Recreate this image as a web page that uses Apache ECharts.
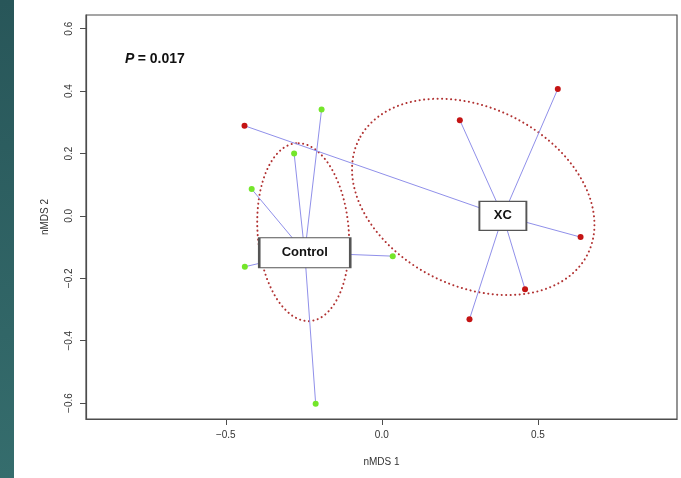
<!DOCTYPE html>
<html>
<head>
<meta charset="utf-8">
<script src="https://cdn.jsdelivr.net/npm/echarts@6/dist/echarts.min.js"></script>
<style>
  html, body { margin: 0; padding: 0; background: #ffffff; }
  #chart { width: 681px; height: 478px; }
</style>
</head>
<body>
<div id="chart"></div>
<script>
// nMDS ordination: sample scores, group centroids (spider hubs) and dispersion ellipses
const xTicks = [-0.5, 0.0, 0.5];
const yTicks = [-0.6, -0.4, -0.2, 0.0, 0.2, 0.4, 0.6];

const groupNames = ['Control', 'XC'];

const controlX = [-0.193, -0.281, -0.417, -0.439, 0.035, -0.212];
const controlY = [0.341, 0.200, 0.086, -0.163, -0.129, -0.602];

const xcX = [-0.440, 0.250, 0.564, 0.637, 0.459, 0.281];
const xcY = [0.289, 0.307, 0.407, -0.068, -0.235, -0.331];

// spider hubs, where the group labels sit
const centroidX = [-0.247, 0.388];
const centroidY = [-0.118, 0.000];

// dispersion ellipses: centre, semi-axes and rotation (degrees)
const ellipseCX = [-0.252, 0.293];
const ellipseCY = [-0.052, 0.061];
const ellipseA = [0.286, 0.410];
const ellipseB = [0.146, 0.286];
const ellipseAngle = [94.5, 153.5];

const pText = '0.017';

const xMin = -0.948, xMax = 0.946;
const yMin = -0.651, yMax = 0.644;

const groupsX = [controlX, xcX];
const groupsY = [controlY, xcY];
const pointColors = ['#74e62a', '#c41414'];
const labelBoxSize = [[91, 30], [47, 29]];

function ellipseOutline(g) {
  const pts = [];
  const th = ellipseAngle[g] * Math.PI / 180;
  const c = Math.cos(th), s = Math.sin(th);
  for (let k = 0; k <= 180; k++) {
    const t = (k / 180) * 2 * Math.PI;
    const px = ellipseA[g] * Math.cos(t);
    const py = ellipseB[g] * Math.sin(t);
    pts.push([ellipseCX[g] + px * c - py * s, ellipseCY[g] + px * s + py * c]);
  }
  return pts;
}

const fmt = v => {
  const s = Math.abs(v).toFixed(1);
  return v < -1e-9 ? '\u2212' + s : s;
};

const series = [];

// ellipses
groupNames.forEach((name, g) => {
  series.push({
    type: 'line',
    data: ellipseOutline(g),
    showSymbol: false,
    silent: true,
    z: 2,
    lineStyle: { color: '#a81c1c', width: 2, type: [0.1, 4.4], cap: 'round', opacity: 0.9 }
  });
});

// spider segments from each sample to its group hub
const spiderData = [];
groupNames.forEach((name, g) => {
  groupsX[g].forEach((x, i) => {
    spiderData.push({ coords: [[centroidX[g], centroidY[g]], [x, groupsY[g][i]]] });
  });
});
series.push({
  type: 'lines',
  coordinateSystem: 'cartesian2d',
  data: spiderData,
  silent: true,
  z: 3,
  lineStyle: { color: '#9090ea', width: 1, opacity: 1 }
});

// sample points
groupNames.forEach((name, g) => {
  series.push({
    type: 'scatter',
    name: name,
    data: groupsX[g].map((x, i) => [x, groupsY[g][i]]),
    symbol: 'circle',
    symbolSize: 6,
    z: 4,
    itemStyle: { color: pointColors[g], opacity: 1 }
  });
});

// group labels in boxes at the hubs
series.push({
  type: 'scatter',
  z: 6,
  data: groupNames.map((name, g) => ({
    value: [centroidX[g], centroidY[g]],
    name: name,
    symbolSize: labelBoxSize[g]
  })),
  symbol: 'rect',
  itemStyle: { color: '#ffffff', borderColor: '#555555', borderWidth: 1.5, opacity: 1 },
  label: {
    show: true,
    position: 'inside',
    formatter: p => p.name,
    fontFamily: 'Liberation Sans, Arial, sans-serif',
    fontWeight: 'bold',
    fontSize: 13,
    color: '#111111'
  }
});

const chart = echarts.init(document.getElementById('chart'), null, { renderer: 'canvas' });
chart.setOption({
  animation: false,
  backgroundColor: '#ffffff',
  grid: {
    left: 86, right: 4, top: 15, bottom: 59,
    show: true, borderColor: '#4d4d4d', borderWidth: 1.2, backgroundColor: 'transparent'
  },
  xAxis: {
    type: 'value', min: xMin, max: xMax,
    splitLine: { show: false },
    axisLine: { show: true, onZero: false, lineStyle: { color: '#4d4d4d', width: 1.2 } },
    axisTick: { show: true, inside: false, length: 6, customValues: xTicks, lineStyle: { color: '#4d4d4d' } },
    axisLabel: {
      customValues: xTicks, formatter: fmt, margin: 11,
      fontFamily: 'Liberation Sans, Arial, sans-serif', fontSize: 10, color: '#333333'
    }
  },
  yAxis: {
    type: 'value', min: yMin, max: yMax,
    splitLine: { show: false },
    axisLine: { show: true, onZero: false, lineStyle: { color: '#4d4d4d', width: 1.2 } },
    axisTick: { show: true, inside: false, length: 6, customValues: yTicks, lineStyle: { color: '#4d4d4d' } },
    axisLabel: {
      customValues: yTicks, formatter: fmt, margin: 12, rotate: 90,
      fontFamily: 'Liberation Sans, Arial, sans-serif', fontSize: 10, color: '#333333'
    }
  },
  graphic: [
    {
      type: 'rect', left: 0, top: 0, silent: true,
      shape: { width: 14, height: 478 },
      style: {
        fill: new echarts.graphic.LinearGradient(0, 0, 0, 1, [
          { offset: 0, color: '#285659' },
          { offset: 1, color: '#356d6d' }
        ])
      }
    },
    {
      type: 'text', left: 125, top: 52,
      style: {
        text: '{i|P} {b|= ' + pText + '}',
        rich: {
          i: { fontFamily: 'Liberation Sans, Arial, sans-serif', fontStyle: 'italic', fontWeight: 'bold', fontSize: 14, fill: '#111' },
          b: { fontFamily: 'Liberation Sans, Arial, sans-serif', fontWeight: 'bold', fontSize: 14, fill: '#111' }
        }
      }
    },
    {
      type: 'text', x: 381.5, y: 462,
      style: {
        text: 'nMDS 1', textAlign: 'center', textVerticalAlign: 'middle',
        font: '10px "Liberation Sans", Arial, sans-serif', fill: '#333'
      }
    },
    {
      type: 'text', x: 45, y: 217, rotation: Math.PI / 2,
      style: {
        text: 'nMDS 2', textAlign: 'center', textVerticalAlign: 'middle',
        font: '10px "Liberation Sans", Arial, sans-serif', fill: '#333'
      }
    }
  ],
  series: series
});
</script>
</body>
</html>
